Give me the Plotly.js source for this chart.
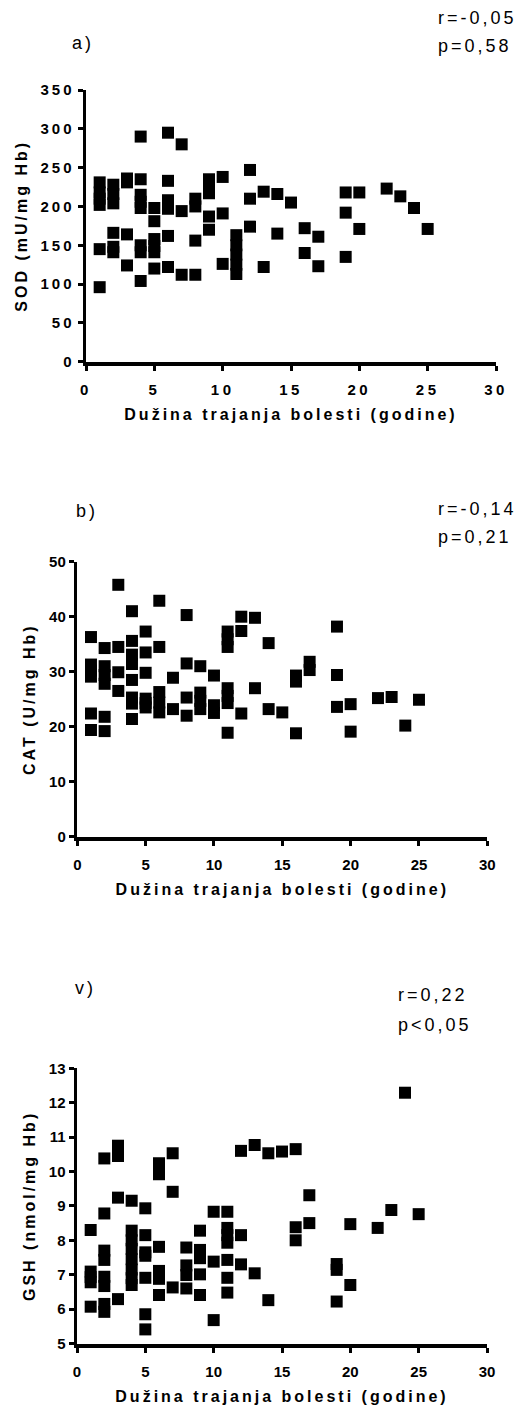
<!DOCTYPE html>
<html>
<head>
<meta charset="utf-8">
<script src="https://cdn.plot.ly/plotly-3.0.1.min.js"></script>
<style>
html,body{margin:0;padding:0;background:#fff;}
#chart{width:517px;height:1410px;}
.ytick text{letter-spacing:3px;font-weight:bold !important;}
.xtick text{letter-spacing:3.5px;font-weight:bold !important;}
.g-xtitle text,.g-ytitle text,.g-x2title text,.g-y2title text,.g-x3title text,.g-y3title text{letter-spacing:3px;font-weight:bold !important;}
.annotation-text{letter-spacing:3px;}
</style>
</head>
<body>
<div id="chart"></div>
<script>
// Panel a) SOD vs disease duration
const sodX = [1,1,1,1,1,1, 2,2,2,2,2,2, 3,3,3,3, 4,4,4,4,4,4,4,4, 5,5,5,5,5,5, 6,6,6,6,6,6, 7,7,7, 8,8,8,8, 9,9,9,9,9, 10,10,10, 11,11,11,11,11, 12,12,12, 13,13, 14,14, 15, 16,16, 17,17, 19,19,19, 20,20, 22, 23, 24, 25];
const sodY = [231,218,210,202,145,96, 228,216,204,166,148,141, 236,231,164,124, 290,235,215,206,198,150,141,104, 198,181,158,149,141,120, 295,233,208,197,162,122, 280,194,112, 210,200,156,112, 235,226,217,187,170, 238,191,126, 163,150,138,125,113, 247,210,174, 219,122, 216,165, 205, 172,140, 161,123, 218,192,135, 218,171, 223, 213, 198, 171];

// Panel b) CAT vs disease duration
const catX = [1,1,1,1,1,1, 2,2,2,2,2,2, 3,3,3,3, 4,4,4,4,4,4,4,4, 5,5,5,5,5,5, 6,6,6,6,6, 7,7, 8,8,8,8, 9,9,9,9, 10,10,10, 11,11,11,11,11,11,11, 12,12,12, 13,13, 14,14, 15, 16,16,16, 17,17, 19,19,19, 20,20, 22, 23, 24, 25];
const catY = [36.3,31.3,30.2,29.1,22.4,19.4, 34.3,31.0,29.4,27.8,21.8,19.2, 45.8,34.5,29.9,26.5, 41.0,35.6,33.1,31.4,28.5,25.3,24.2,21.4, 37.3,33.5,29.8,25.1,24.3,23.5, 42.9,34.5,26.3,24.4,22.6, 28.9,23.2, 40.3,31.5,25.3,22.0, 31.0,26.2,24.7,23.2, 29.3,23.9,22.5, 37.3,35.9,34.5,27.0,25.6,24.3,18.9, 40.0,37.4,22.4, 39.8,27.0, 35.2,23.2, 22.6, 29.3,28.2,18.8, 31.8,30.3, 38.2,29.4,23.6, 24.1,19.1, 25.2, 25.4, 20.2, 24.9];

// Panel v) GSH vs disease duration
const gshX = [1,1,1,1,1, 2,2,2,2,2,2,2,2, 3,3,3,3, 4,4,4,4,4,4,4,4, 5,5,5,5,5,5,5, 6,6,6,6,6,6, 7,7,7, 8,8,8,8, 9,9,9,9,9, 10,10,10, 11,11,11,11,11,11,11, 12,12,12, 13,13, 14,14, 15, 16,16,16, 17,17, 19,19,19, 20,20, 22, 23, 24, 25];
const gshY = [8.3,7.09,6.93,6.78,6.07, 10.38,8.78,7.7,7.43,6.94,6.67,6.15,5.92, 10.75,10.45,9.24,6.29, 9.15,8.28,8.0,7.75,7.45,7.15,6.9,6.7, 8.93,8.15,7.65,7.55,6.91,5.85,5.41, 10.24,9.92,7.81,7.11,6.88,6.41, 10.53,9.41,6.63, 7.79,7.27,6.99,6.6, 8.28,7.72,7.48,7.01,6.41, 8.83,7.38,5.68, 8.83,8.36,8.15,7.93,7.43,6.91,6.48, 10.6,8.15,7.3, 10.77,7.04, 10.53,6.26, 10.58, 10.65,8.38,8.0, 9.31,8.5, 7.31,7.14,6.22, 8.47,6.7, 8.36, 8.88, 12.29, 8.76];

const xTitle = 'Dužina trajanja bolesti (godine)';
const yTitles = ['SOD (mU/mg Hb)', 'CAT (U/mg Hb)', 'GSH (nmol/mg Hb)'];
const panelLabels = ['a)', 'b)', 'v)'];
const rLabels = ['r=-0,05', 'r=-0,14', 'r=0,22'];
const pLabels = ['p=0,58', 'p=0,21', 'p<0,05'];

const W = 517, H = 1410;
const px = v => v / W;
const py = v => 1 - v / H;

const FONT = 'Liberation Sans, Arial, sans-serif';
const marker = {symbol: 'square', size: 12, color: '#000', line: {width: 0}};

const traces = [
  {x: sodX, y: sodY, type: 'scatter', mode: 'markers', marker: marker, xaxis: 'x', yaxis: 'y', cliponaxis: false},
  {x: catX, y: catY, type: 'scatter', mode: 'markers', marker: marker, xaxis: 'x2', yaxis: 'y2', cliponaxis: false},
  {x: gshX, y: gshY, type: 'scatter', mode: 'markers', marker: marker, xaxis: 'x3', yaxis: 'y3', cliponaxis: false}
];

function xax(domain, anchor) {
  return {
    domain: domain, anchor: anchor, range: [0, 30], dtick: 5, tick0: 0,
    showgrid: false, zeroline: false, showline: true, linewidth: 4, linecolor: '#000',
    ticks: 'outside', ticklen: 5, tickwidth: 3, tickcolor: '#000',
    ticklabelstandoff: 6,
    tickfont: {family: FONT, size: 15, color: '#000', weight: 'bold'},
    title: {text: xTitle, font: {family: FONT, size: 16, color: '#000', weight: 'bold'}, standoff: 13},
    fixedrange: true
  };
}
function yax(domain, anchor, range, dtick, title) {
  return {
    domain: domain, anchor: anchor, range: range, dtick: dtick, tick0: range[0],
    showgrid: false, zeroline: false, showline: true, linewidth: 3.5, linecolor: '#000',
    ticks: 'outside', ticklen: 5, tickwidth: 3, tickcolor: '#000',
    tickfont: {family: FONT, size: 15, color: '#000', weight: 'bold'},
    title: {text: title, font: {family: FONT, size: 16, color: '#000', weight: 'bold'}, standoff: 10},
    fixedrange: true
  };
}

const annFont = {family: FONT, size: 18, color: '#000'};
function ann(text, x, y, xanchor) {
  return {text: text, x: px(x), y: py(y), xref: 'paper', yref: 'paper', xanchor: xanchor, yanchor: 'middle', showarrow: false, font: annFont};
}

const layout = {
  width: W, height: H,
  margin: {l: 0, r: 0, t: 0, b: 0},
  paper_bgcolor: '#fff', plot_bgcolor: '#fff',
  showlegend: false,
  xaxis: xax([px(86), px(496)], 'y'),
  yaxis: yax([py(361.7), py(90)], 'x', [0, 350], 50, yTitles[0]),
  xaxis2: xax([px(77.3), px(487.3)], 'y2'),
  yaxis2: yax([py(836.7), py(561.7)], 'x2', [0, 50], 10, yTitles[1]),
  xaxis3: xax([px(77), px(487)], 'y3'),
  yaxis3: yax([py(1343.5), py(1068.3)], 'x3', [5, 13], 1, yTitles[2]),
  annotations: [
    ann(panelLabels[0], 70, 43, 'left'),
    ann(rLabels[0], 436, 18, 'left'),
    ann(pLabels[0], 436, 46, 'left'),
    ann(panelLabels[1], 74, 511, 'left'),
    ann(rLabels[1], 436, 509, 'left'),
    ann(pLabels[1], 436, 537, 'left'),
    ann(panelLabels[2], 73, 988, 'left'),
    ann(rLabels[2], 396, 995, 'left'),
    ann(pLabels[2], 396, 1025, 'left')
  ]
};

Plotly.newPlot('chart', traces, layout, {displayModeBar: false, staticPlot: true});
</script>
</body>
</html>
